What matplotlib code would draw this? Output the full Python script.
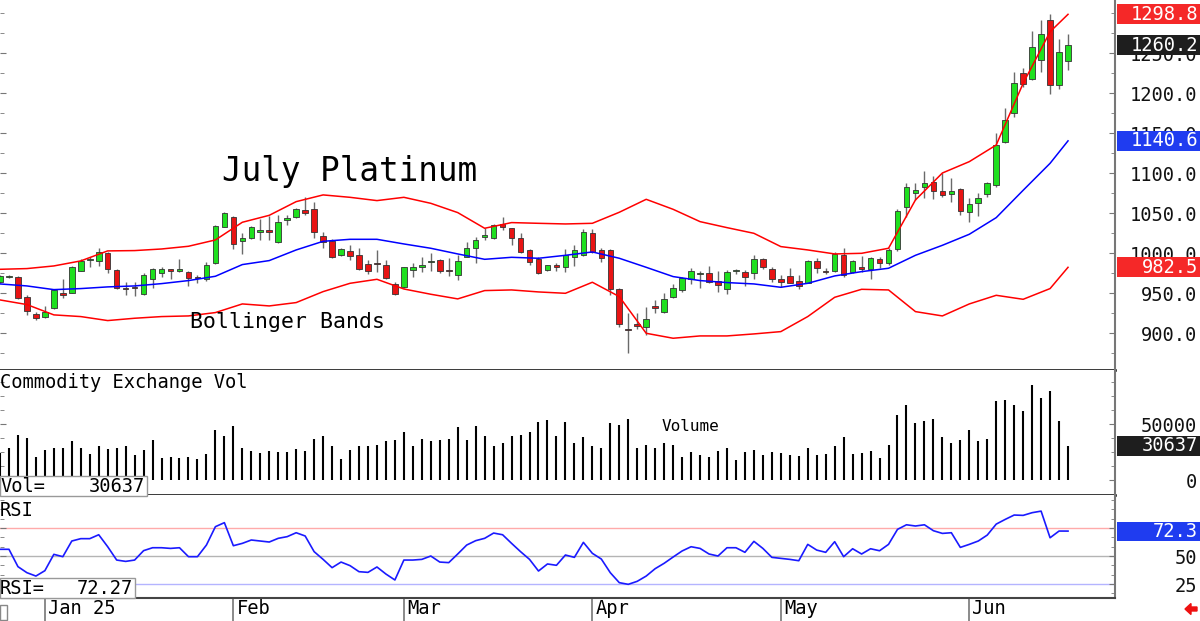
import numpy as np
import pandas as pd
import matplotlib
matplotlib.use("Agg")
import matplotlib.pyplot as plt
from matplotlib.patches import Rectangle, FancyArrow
from matplotlib import transforms

plt.rcParams['font.family'] = 'DejaVu Sans Mono'

# trading days on the chart (exchange holidays dropped)
holidays = ["2024-12-25", "2025-01-01", "2025-01-20", "2025-02-17", "2025-04-18", "2025-05-26"]
days = pd.bdate_range("2024-12-24", "2025-06-17")
days = days[~days.isin(pd.to_datetime(holidays))]

month_labels = ["Jan 25", "Feb", "Mar", "Apr", "May", "Jun"]

opens = [964.6, 970.4, 970.9, 945.9, 923.8, 920.0, 931.3, 950.0, 950.9, 978.4,
         991.3, 990.9, 1000.9, 979.2, 957.1, 958.4, 949.2, 967.5, 975.0, 980.0,
         977.5, 977.1, 970.4, 967.5, 987.5, 1033.4, 1045.9, 1015.9, 1018.8, 1026.3,
         1029.2, 1014.6, 1041.7, 1045.0, 1054.2, 1055.4, 1021.7, 1015.4, 997.9, 1003.0,
         997.9, 986.3, 987.5, 985.4, 961.7, 957.5, 979.2, 982.5, 988.8, 991.7,
         979.2, 972.9, 995.9, 1006.3, 1020.9, 1018.8, 1036.3, 1031.3, 1018.8, 1004.2,
         993.0, 979.2, 985.4, 982.5, 995.0, 997.9, 1025.9, 1004.2, 1004.2, 955.0,
         905.0, 911.7, 908.4, 934.2, 927.1, 945.0, 954.2, 967.5, 974.6, 975.0,
         965.4, 955.0, 978.0, 976.3, 975.0, 992.9, 980.0, 967.9, 971.7, 965.4,
         963.4, 990.4, 977.5, 978.4, 998.0, 977.1, 983.4, 980.0, 992.9, 987.5,
         1005.0, 1058.4, 1075.9, 1082.5, 1088.8, 1078.0, 1074.2, 1080.0, 1051.3, 1063.4,
         1073.8, 1085.5, 1139.6, 1175.0, 1225.0, 1217.9, 1241.7, 1291.7, 1210.4, 1240.9]
highs = [972.9, 972.5, 971.7, 948.0, 927.1, 934.2, 955.0, 967.5, 984.2, 992.5,
         995.0, 1006.3, 1001.7, 980.0, 964.6, 964.6, 975.0, 981.3, 982.5, 980.4,
         992.9, 978.0, 972.9, 989.6, 1035.4, 1051.3, 1046.7, 1025.9, 1034.2, 1042.5,
         1046.7, 1047.9, 1047.9, 1056.3, 1070.9, 1064.6, 1027.1, 1017.5, 1006.3, 1010.5,
         1006.3, 991.7, 1004.2, 991.7, 964.6, 983.4, 987.4, 995.9, 1000.0, 992.5,
         993.8, 997.9, 1014.6, 1020.9, 1031.3, 1036.7, 1045.0, 1032.1, 1025.0, 1005.0,
         995.0, 985.8, 987.5, 1005.0, 1010.5, 1030.0, 1030.0, 1006.3, 1005.0, 956.3,
         925.0, 925.0, 933.4, 941.7, 950.0, 961.7, 970.9, 981.3, 978.4, 984.2,
         978.4, 979.2, 980.0, 979.2, 997.9, 994.6, 982.5, 972.9, 981.3, 972.9,
         991.7, 993.8, 981.3, 1002.1, 1006.3, 991.7, 996.7, 995.0, 995.0, 1006.3,
         1055.0, 1088.4, 1087.5, 1103.4, 1096.7, 1100.0, 1093.8, 1081.3, 1068.8, 1075.0,
         1089.6, 1150.9, 1181.3, 1227.1, 1231.3, 1278.4, 1291.7, 1299.2, 1267.5, 1273.8]
lows = [963.4, 969.2, 943.0, 923.0, 916.7, 919.2, 930.4, 943.8, 950.0, 977.9,
        982.5, 984.2, 975.0, 955.0, 948.0, 947.1, 948.0, 956.3, 970.0, 967.5,
        977.1, 959.2, 962.5, 965.4, 987.0, 1032.5, 1005.0, 999.2, 1017.5, 1016.7,
        1016.7, 1013.4, 1035.4, 1043.8, 1047.9, 1018.8, 1006.3, 993.8, 996.7, 991.7,
        979.2, 974.2, 977.1, 967.5, 948.0, 957.0, 970.9, 977.1, 978.4, 975.0,
        971.7, 966.7, 995.0, 988.4, 1016.7, 1017.5, 1029.2, 1010.5, 1000.9, 985.4,
        974.2, 978.4, 978.4, 977.1, 984.2, 996.7, 1000.9, 989.6, 948.0, 908.4,
        875.9, 905.0, 898.0, 925.0, 925.9, 944.6, 952.1, 961.7, 956.3, 962.5,
        952.1, 949.2, 974.2, 959.2, 967.5, 980.0, 964.6, 958.4, 962.5, 955.0,
        962.5, 975.0, 974.2, 977.1, 970.9, 975.0, 977.1, 967.5, 981.3, 985.4,
        1003.4, 1045.9, 1066.7, 1068.8, 1068.4, 1070.9, 1064.6, 1048.0, 1039.6, 1046.7,
        1070.9, 1083.4, 1138.4, 1170.0, 1207.5, 1216.7, 1227.1, 1199.2, 1205.0, 1229.2]
closes = [971.7, 971.3, 943.8, 928.4, 919.6, 927.1, 954.2, 948.4, 982.5, 990.9,
          992.5, 1002.1, 980.0, 957.1, 955.0, 957.1, 972.9, 980.0, 980.0, 978.4,
          980.4, 968.8, 969.2, 985.4, 1034.2, 1050.0, 1011.3, 1018.8, 1032.5, 1029.2,
          1027.1, 1039.6, 1043.8, 1055.4, 1050.9, 1027.1, 1014.6, 995.0, 1005.0, 996.7,
          980.0, 978.4, 986.3, 969.6, 948.8, 982.5, 982.5, 985.4, 990.9, 978.4,
          977.5, 990.5, 1006.3, 1016.7, 1023.0, 1035.4, 1033.4, 1018.8, 1002.1, 989.6,
          975.0, 985.4, 982.5, 997.9, 1004.2, 1027.1, 1002.1, 993.8, 955.0, 911.7,
          903.8, 909.2, 917.5, 931.3, 943.0, 956.3, 968.8, 978.4, 975.4, 964.6,
          960.4, 977.1, 978.8, 970.9, 992.9, 983.4, 967.5, 964.6, 963.4, 959.2,
          990.4, 981.3, 976.7, 999.2, 972.9, 990.4, 980.0, 993.8, 988.4, 1004.2,
          1053.4, 1082.5, 1079.2, 1087.5, 1078.4, 1073.0, 1078.0, 1053.4, 1061.7, 1068.8,
          1088.4, 1135.4, 1166.7, 1213.4, 1211.7, 1258.4, 1273.8, 1210.4, 1252.1, 1260.2]

volume = [24700, 29200, 40200, 37800, 21100, 27100, 28600, 28600, 34800, 28600,
          23500, 30700, 27700, 29200, 30700, 22600, 26800, 35700, 19600, 21100,
          19600, 21100, 18750, 23200, 44650, 39300, 47900, 29200, 26200, 24100,
          26200, 25300, 25600, 27700, 26200, 36300, 39300, 30100, 18750, 27100,
          30700, 30100, 31500, 35100, 35700, 42600, 30700, 36600, 35100, 36000,
          36600, 47600, 36000, 48500, 39600, 30700, 33000, 39600, 40200, 42600,
          52100, 53600, 39600, 52100, 33000, 38100, 30100, 29200, 50600, 49100,
          54500, 28600, 31500, 29200, 33000, 31500, 21100, 25300, 22900, 20800,
          26200, 28600, 17900, 25300, 27100, 22900, 25300, 24100, 22300, 22000,
          29200, 22300, 23200, 30100, 38100, 23200, 24100, 26200, 20200, 31300,
          58300, 66400, 50600, 52700, 54500, 38700, 33000, 36000, 44650, 35100,
          36600, 70200, 71400, 66400, 61900, 84800, 72900, 78900, 53000, 30637]

rsi = [56.0, 56.0, 40.5, 35.1, 32.1, 36.9, 51.5, 49.4, 63.4, 65.5,
       65.5, 69.0, 58.3, 46.4, 45.2, 46.4, 54.8, 57.4, 57.4, 56.8,
       57.4, 49.4, 49.4, 59.8, 76.2, 79.8, 59.2, 61.3, 64.3, 63.4,
       62.5, 65.8, 67.3, 70.8, 67.9, 53.9, 47.0, 39.6, 44.6, 41.4,
       36.0, 35.4, 40.2, 33.9, 28.6, 46.4, 46.4, 47.0, 50.0, 44.6,
       44.1, 51.8, 59.8, 63.7, 65.8, 70.5, 69.0, 61.3, 53.9, 47.0,
       36.6, 42.9, 41.7, 50.9, 48.8, 62.2, 52.4, 47.3, 35.1, 26.2,
       24.7, 27.4, 32.1, 38.7, 43.5, 49.1, 54.5, 58.3, 56.8, 51.8,
       50.0, 57.4, 57.4, 53.3, 63.1, 56.8, 48.8, 47.9, 47.0, 45.8,
       60.4, 55.3, 53.3, 62.8, 49.4, 56.5, 51.8, 56.5, 54.7, 60.4,
       73.8, 77.9, 76.8, 77.9, 72.6, 70.2, 70.8, 57.7, 60.4, 63.4,
       68.7, 78.5, 82.7, 86.6, 86.3, 88.7, 90.1, 66.3, 72.3, 72.27]

# bollinger bands read every third session (plus the last one)
band_upper = [980.0, 980.9, 984.2, 990.5, 1003.0, 1003.4, 1005.4, 1008.8, 1016.7, 1038.8,
              1047.5, 1064.6, 1073.0, 1070.0, 1065.9, 1070.0, 1062.5, 1050.9, 1031.3, 1038.4,
              1037.5, 1036.7, 1037.5, 1051.3, 1067.5, 1055.0, 1039.6, 1032.1, 1025.0, 1008.4,
              1004.2, 999.2, 1000.0, 1006.3, 1066.7, 1100.4, 1114.6, 1135.4, 1212.5, 1277.0, 1298.8]
band_mid = [961.7, 959.2, 954.6, 955.9, 958.0, 959.2, 962.1, 965.9, 971.3, 985.9,
            990.9, 1004.2, 1015.0, 1017.5, 1017.5, 1011.7, 1006.3, 999.2, 992.5, 995.0,
            993.8, 997.5, 1001.7, 993.8, 982.5, 970.9, 965.9, 963.4, 961.7, 957.5,
            962.5, 971.7, 977.1, 981.3, 997.5, 1010.0, 1023.8, 1044.6, 1078.8, 1112.5, 1140.6]
band_lower = [941.7, 935.9, 923.0, 920.9, 915.9, 918.8, 920.9, 921.7, 925.9, 936.7,
              934.2, 938.4, 952.1, 962.5, 967.5, 955.4, 948.8, 943.0, 953.4, 954.2,
              951.7, 950.0, 963.8, 945.9, 900.0, 893.8, 896.7, 896.7, 899.2, 902.1,
              920.9, 945.0, 955.0, 954.2, 927.1, 921.7, 936.7, 947.5, 942.5, 955.9, 982.5]

x = np.arange(len(days))
band_x = list(range(0, len(days), 3)) + [len(days) - 1]
month_pos = [int(np.argmax((days.month == m) & (days.year == 2025))) for m in range(1, 7)]

W, H = 1200, 621
def fx(px):
    return px / W
def fy(py):
    return 1 - py / H

fig = plt.figure(figsize=(12, 6.21), dpi=100)
fig.patch.set_facecolor('white')
ax_r = 1115 / W
ax_p = fig.add_axes([0, fy(370), ax_r, 370 / H])
ax_v = fig.add_axes([0, fy(495), ax_r, 125 / H])
ax_s = fig.add_axes([0, fy(598), ax_r, 103 / H])

xmax = 1115 / 8.975
for ax in (ax_p, ax_v, ax_s):
    ax.set_xlim(0, xmax)
    ax.spines['top'].set_visible(False)
    ax.spines['left'].set_visible(False)
    ax.spines['right'].set_color('#777777')
    ax.spines['right'].set_linewidth(1.5)
    ax.spines['bottom'].set_color('black')
    ax.spines['bottom'].set_linewidth(1.8)
    ax.yaxis.tick_right()
    ax.tick_params(axis='y', which='both', direction='in', left=True, right=True,
                   labelleft=False, labelright=True, color='#777777', pad=59,
                   labelsize=13.5, labelcolor='#111111')
    ax.tick_params(axis='y', which='major', length=4)
    ax.tick_params(axis='y', which='minor', length=3)
    ax.tick_params(axis='x', which='both', bottom=False, labelbottom=False)

# ---- price panel
ax_p.set_ylim(854.1, 1316.7)
pticks = np.arange(900, 1300, 50)
ax_p.set_yticks(pticks, labels=['%.1f' % t for t in pticks], ha='right')
ax_p.set_yticks(np.arange(875, 1325, 25), minor=True)

green, red = '#1fe01f', '#e81414'
o = np.array(opens); c = np.array(closes)
cols = [green if cc >= oo else red for oo, cc in zip(o, c)]
ax_p.vlines(x, lows, highs, color='#6a6a6a', lw=1.0, zorder=2)
body = np.where(np.abs(c - o) < 1.2, np.sign(c - o + 1e-9) * 1.2, c - o)
ax_p.bar(x, body, bottom=o, width=0.62, color=cols, edgecolor='#333333',
         linewidth=0.6, zorder=3)

ax_p.plot(band_x, band_upper, color='#ff0000', lw=1.1, zorder=4)
ax_p.plot(band_x, band_lower, color='#ff0000', lw=1.1, zorder=4)
ax_p.plot(band_x, band_mid, color='#0000ff', lw=1.1, zorder=4)

fig.text(fx(222), fy(181), 'July Platinum', fontsize=23.5, va='baseline', ha='left')
fig.text(fx(190), fy(328), 'Bollinger Bands', fontsize=15.5, va='baseline', ha='left')

# value boxes on the right scale
def value_box(ax, value, text, color, height_px):
    tr = transforms.blended_transform_factory(fig.transFigure, ax.transData)
    y0, y1 = ax.get_ylim()
    hdata = height_px * (y1 - y0) / (ax.get_position().height * H)
    ax.add_patch(Rectangle((fx(1117), value - hdata / 2), fx(1200) - fx(1117), hdata,
                           transform=tr, facecolor=color, edgecolor='none',
                           clip_on=False, zorder=5))
    ax.text(fx(1198), value, text, transform=tr, ha='right', va='center',
            color='white', fontsize=13.5, zorder=6, clip_on=False)

value_box(ax_p, band_upper[-1], '%.1f' % band_upper[-1], '#f52828', 20)
value_box(ax_p, closes[-1], '%.1f' % closes[-1], '#1e1e1e', 20)
value_box(ax_p, band_mid[-1], '%.1f' % band_mid[-1], '#1f3cf0', 20)
value_box(ax_p, band_lower[-1], '%.1f' % band_lower[-1], '#f52828', 20)

# ---- volume panel
ax_v.set_ylim(-12832, 97788)
ax_v.set_yticks([0, 50000], labels=['0', '50000'], ha='right')
ax_v.set_yticks(np.arange(-12500, 100000, 12500), minor=True)
ax_v.vlines(x, 0, volume, color='black', lw=1.5)
fig.text(fx(0), fy(388), 'Commodity Exchange Vol', fontsize=13.5, va='baseline')
fig.text(fx(662), fy(431), 'Volume', fontsize=11.5, va='baseline')
value_box(ax_v, volume[-1], str(volume[-1]), '#1e1e1e', 20)
fig.add_artist(Rectangle((fx(0), fy(496)), fx(147), 20 / H, transform=fig.transFigure,
                         facecolor='white', edgecolor='#999999', lw=1.0, zorder=5))
fig.text(fx(0), fy(486), 'Vol=', fontsize=13.5, va='center', zorder=6)
fig.text(fx(145), fy(486), str(volume[-1]), fontsize=13.5, va='center', ha='right', zorder=6)

# ---- RSI panel
ax_s.set_ylim(12.5, 104.5)
ax_s.set_yticks([25, 50, 75], labels=['25', '50', '75'], ha='right')
ax_s.set_yticks(np.arange(25 / 3 * 2, 104, 25 / 3), minor=True)
ax_s.axhline(75, color='#ffaaaa', lw=1.0, zorder=1)
ax_s.axhline(50, color='#b4b4b4', lw=1.0, zorder=1)
ax_s.axhline(25, color='#b4b4ff', lw=1.0, zorder=1)
ax_s.plot(x, rsi, color='#1a1aff', lw=1.2, zorder=3)
ax_s.spines['bottom'].set_color('#444444')
ax_s.spines['bottom'].set_linewidth(1.5)
fig.text(fx(0), fy(516), 'RSI', fontsize=13.5, va='baseline')
value_box(ax_s, rsi[-1], '%.1f' % rsi[-1], '#1f3cf0', 19)
fig.add_artist(Rectangle((fx(0), fy(598)), fx(135), 20 / H, transform=fig.transFigure,
                         facecolor='white', edgecolor='#999999', lw=1.0, zorder=5))
fig.text(fx(0), fy(588), 'RSI=', fontsize=13.5, va='center', zorder=6)
fig.text(fx(133), fy(588), '%.2f' % rsi[-1], fontsize=13.5, va='center', ha='right', zorder=6)

# month ticks below the RSI panel
ax_s.set_xticks(month_pos)
ax_s.tick_params(axis='x', which='major', bottom=True, direction='out', length=16.5,
                 width=1.2, color='#777777', labelbottom=False)
tr_m = transforms.blended_transform_factory(ax_s.transData, fig.transFigure)
for pos, lab in zip(month_pos, month_labels):
    ax_s.text(pos + 0.35, fy(614), lab, transform=tr_m, fontsize=13.5,
              ha='left', va='baseline', clip_on=False)

fig.add_artist(Rectangle((fx(0), fy(620)), fx(7), 15 / H, transform=fig.transFigure,
                         facecolor='white', edgecolor='#888888', lw=1.0))
fig.add_artist(FancyArrow(1197, 12, -12, 0, width=4, head_width=11, head_length=6,
                          length_includes_head=True, color='#ee1111',
                          transform=transforms.IdentityTransform()))

fig.savefig('out.png', dpi=100, facecolor='white')
